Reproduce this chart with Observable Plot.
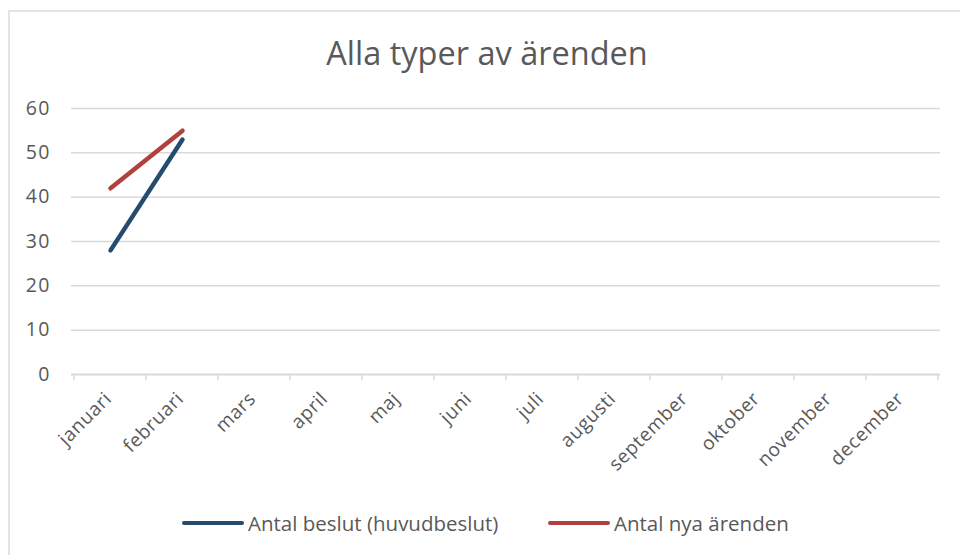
<!DOCTYPE html>
<html>
<head>
<meta charset="utf-8">
<script src="https://cdn.jsdelivr.net/npm/d3@7"></script>
<script src="https://cdn.jsdelivr.net/npm/@observablehq/plot@0.6"></script>
<style>
  html, body { margin: 0; padding: 0; background: #fff; }
  #wrap { position: relative; width: 960px; height: 555px; overflow: hidden; font-family: "Open Sans", "Noto Sans", sans-serif; }
  #frame { position: absolute; left: 8px; top: 10px; width: 960px; height: 560px; border-left: 2px solid #e3e3e3; border-top: 2px solid #e3e3e3; }
  #title { position: absolute; left: 0; top: 30px; width: 974px; text-align: center; font-size: 32.5px; color: #595959; }
  #chart { position: absolute; left: 0; top: 88px; }
  #legend { position: absolute; left: 0; top: 508px; width: 960px; height: 30px; font-size: 20.5px; color: #595959; }
  .item { position: absolute; top: 0; display: flex; align-items: center; height: 30px; }
  .swatch { width: 62px; height: 4.5px; border-radius: 2px; margin-right: 4px; }
  .yax text { letter-spacing: 1.2px; }
  .xax text { letter-spacing: 0.6px; }
</style>
</head>
<body>
<div id="wrap">
  <div id="frame"></div>
  <div id="title">Alla typer av ärenden</div>
  <div id="chart"></div>
  <div id="legend"></div>
</div>
<script>
const months = ["januari","februari","mars","april","maj","juni","juli","augusti","september","oktober","november","december"];
const seriesNames = ["Antal beslut (huvudbeslut)", "Antal nya ärenden"];
const seriesColors = ["#254b6e", "#b0413e"];
const beslut = [28, 53];
const nyaArenden = [42, 55];
const yTicks = [0, 10, 20, 30, 40, 50, 60];

const data = [
  ...beslut.map((v, i) => ({month: months[i], value: v, series: seriesNames[0]})),
  ...nyaArenden.map((v, i) => ({month: months[i], value: v, series: seriesNames[1]}))
];

// tick marks at category boundaries (Excel style), derived from the x scale
function boundaryTicks(index, scales, values, dimensions) {
  const x = scales.x;
  const step = x(months[1]) - x(months[0]);
  const y0 = scales.y(0);
  const g = d3.create("svg:g");
  for (let i = 0; i <= months.length; i++) {
    const px = x(months[0]) - step / 2 + i * step;
    g.append("line")
      .attr("x1", px).attr("x2", px)
      .attr("y1", y0).attr("y2", y0 + 6)
      .attr("stroke", "#d9d9d9").attr("stroke-width", 1.5);
  }
  return g.node();
}

const plot = Plot.plot({
  width: 960,
  height: 400,
  marginLeft: 71,
  marginRight: 20,
  marginTop: 20,
  marginBottom: 114,
  style: { fontFamily: "'Open Sans', 'Noto Sans', sans-serif", color: "#595959", background: "transparent" },
  x: { type: "point", domain: months, padding: 0.5, label: null },
  y: { domain: [0, 60], ticks: yTicks, label: null },
  color: { domain: seriesNames, range: seriesColors },
  marks: [
    Plot.ruleY(yTicks.filter(d => d > 0), { stroke: "#d9d9d9", strokeWidth: 1.5 }),
    Plot.ruleY([0], { stroke: "#d9d9d9", strokeWidth: 2 }),
    boundaryTicks,
    Plot.axisY({ ticks: yTicks, tickSize: 0, tickPadding: 21, fontSize: 19.5, fill: "#595959", label: null, className: "yax" }),
    Plot.axisX({ tickSize: 0, tickRotate: -45, tickPadding: 21, dx: -2, fontSize: 19, fill: "#595959", label: null, className: "xax" }),
    Plot.lineY(data, { x: "month", y: "value", z: "series", stroke: "series", strokeWidth: 4.5, strokeLinecap: "round" })
  ]
});
document.getElementById("chart").appendChild(plot);

const legend = document.getElementById("legend");
const lefts = [182, 548];
seriesNames.forEach((name, i) => {
  const item = document.createElement("div");
  item.className = "item";
  item.style.left = lefts[i] + "px";
  const sw = document.createElement("div");
  sw.className = "swatch";
  sw.style.background = seriesColors[i];
  const t = document.createElement("span");
  t.textContent = name;
  item.appendChild(sw);
  item.appendChild(t);
  legend.appendChild(item);
});
</script>
</body>
</html>
